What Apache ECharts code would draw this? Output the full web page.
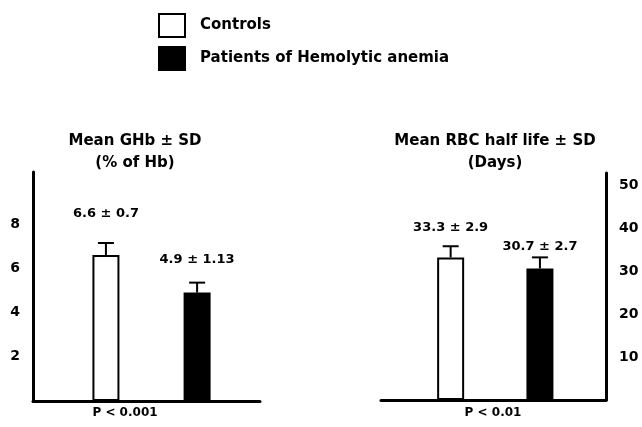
<!DOCTYPE html>
<html>
<head>
<meta charset="utf-8">
<title>GHb and RBC half life</title>
<script src="https://cdn.jsdelivr.net/npm/echarts@6/dist/echarts.min.js"></script>
<style>
  html, body { margin: 0; padding: 0; background: #fff; }
  #main { width: 642px; height: 427px; }
</style>
</head>
<body>
<div id="main"></div>
<script>
// groups
var groups = ['Controls', 'Patients of Hemolytic anemia'];

// left panel: glycated hemoglobin (% of Hb)
var ghbMean = [6.6, 4.9];
var ghbSd = [0.7, 1.13];
var ghbWhisker = [0.54, 0.45];   // whisker length as drawn
var ghbTicks = [2, 4, 6, 8];

// right panel: RBC half life (days)
var rbcMean = [33.3, 30.7];
var rbcSd = [2.9, 2.7];
var rbcWhisker = [2.6, 2.6];
var rbcTicks = [10, 20, 30, 40, 50];

var FONT = 'DejaVu Sans';
var labelGap = [[35, 26], [23, 15]];   // value label distance above each bar

var chart = echarts.init(document.getElementById('main'));

function barSeries(gi, panel, mean, sd) {
  var filled = gi === 1;
  return {
    name: groups[gi],
    type: 'bar',
    xAxisIndex: panel,
    yAxisIndex: panel,
    barWidth: 27,
    barGap: '-100%',
    itemStyle: {
      color: filled ? '#000' : '#fff',
      borderColor: '#000',
      borderWidth: 2
    },
    label: {
      show: true,
      position: 'top',
      distance: labelGap[panel][gi],
      color: '#000',
      fontFamily: FONT,
      fontWeight: 'bold',
      fontSize: 13,
      formatter: function () { return mean[gi] + ' \u00b1 ' + sd[gi]; }
    },
    data: [[gi, mean[gi]]],
    silent: true
  };
}

function errSeries(panel, mean, whisker) {
  return {
    type: 'custom',
    xAxisIndex: panel,
    yAxisIndex: panel,
    silent: true,
    z: 5,
    data: mean.map(function (m, i) { return [i, m, whisker[i]]; }),
    renderItem: function (params, api) {
      var x = api.value(0), m = api.value(1), w = api.value(2);
      var p0 = api.coord([x, m]);
      var p1 = api.coord([x, m + w]);
      var style = { stroke: '#000', lineWidth: 2 };
      return {
        type: 'group',
        children: [
          { type: 'line', shape: { x1: p0[0], y1: p0[1], x2: p1[0], y2: p1[1] }, style: style },
          { type: 'line', shape: { x1: p1[0] - 8, y1: p1[1], x2: p1[0] + 8, y2: p1[1] }, style: style }
        ]
      };
    }
  };
}

var axisLine = { show: true, onZero: false, lineStyle: { color: '#000', width: 3 } };
var tickLabel = { color: '#000', fontFamily: FONT, fontWeight: 'bold', fontSize: 14 };

function titleText(text, x, top, size) {
  return {
    text: text,
    left: x,
    top: top,
    textAlign: 'center',
    textStyle: { color: '#000', fontFamily: FONT, fontWeight: 'bold', fontSize: size, lineHeight: 22 }
  };
}

var option = {
  animation: false,
  backgroundColor: '#fff',
  title: [
    titleText('Mean GHb \u00b1 SD\n(% of Hb)', 130, 125, 15),
    titleText('Mean RBC half life \u00b1 SD\n(Days)', 490, 125, 15),
    titleText('P < 0.001', 120, 397, 12),
    titleText('P < 0.01', 488, 397, 12)
  ],
  legend: {
    orient: 'vertical',
    left: 153,
    top: 8,
    icon: 'rect',
    itemWidth: 26,
    itemHeight: 23,
    itemGap: 8,
    selectedMode: false,
    data: groups,
    textStyle: { color: '#000', fontFamily: FONT, fontWeight: 'bold', fontSize: 15, padding: [0, 0, 0, 10] }
  },
  grid: [
    { left: 33, width: 227, top: 172, bottom: 26 },
    { left: 381, right: 36, top: 173, bottom: 27 }
  ],
  xAxis: [
    { gridIndex: 0, type: 'value', min: -0.8, max: 1.69, axisLine: axisLine,
      axisTick: { show: false }, axisLabel: { show: false }, splitLine: { show: false } },
    { gridIndex: 1, type: 'value', min: -0.78, max: 1.74, axisLine: axisLine,
      axisTick: { show: false }, axisLabel: { show: false }, splitLine: { show: false } }
  ],
  yAxis: [
    { gridIndex: 0, type: 'value', min: 0, max: 10.35, interval: 2, axisLine: axisLine,
      axisTick: { show: false }, splitLine: { show: false },
      axisLabel: Object.assign({ margin: 13,
        formatter: function (v) { return ghbTicks.indexOf(v) >= 0 ? v : ''; } }, tickLabel) },
    { gridIndex: 1, type: 'value', position: 'right', min: 0, max: 53, interval: 10, axisLine: axisLine,
      axisTick: { show: false }, splitLine: { show: false },
      axisLabel: Object.assign({ margin: 13,
        formatter: function (v) { return rbcTicks.indexOf(v) >= 0 ? v : ''; } }, tickLabel) }
  ],
  series: [
    barSeries(0, 0, ghbMean, ghbSd),
    barSeries(1, 0, ghbMean, ghbSd),
    errSeries(0, ghbMean, ghbWhisker),
    barSeries(0, 1, rbcMean, rbcSd),
    barSeries(1, 1, rbcMean, rbcSd),
    errSeries(1, rbcMean, rbcWhisker)
  ]
};

chart.setOption(option);
</script>
</body>
</html>
